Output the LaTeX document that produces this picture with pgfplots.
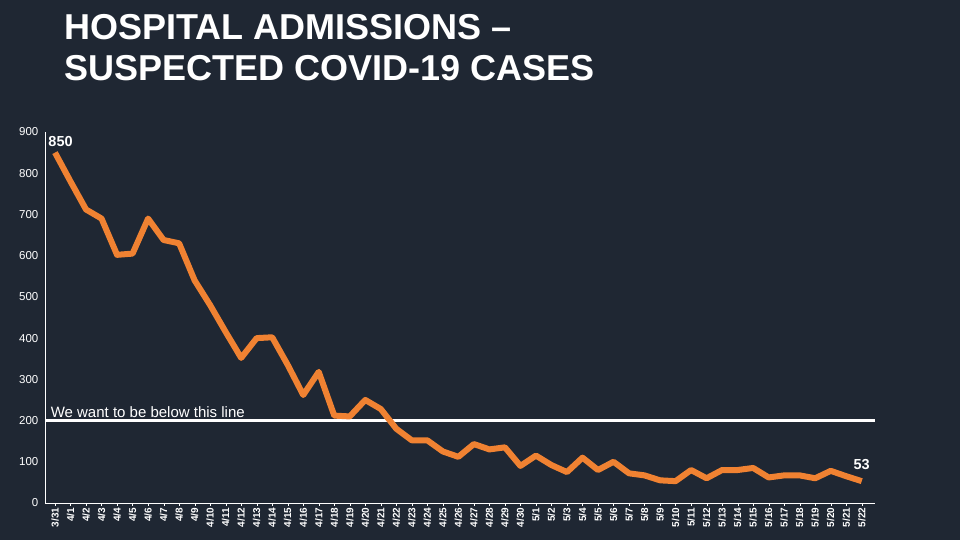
\documentclass[border=0pt]{standalone}
\usepackage{pgfplots}
\pgfplotsset{compat=1.18}
\usepackage{fontspec}
\setmainfont{Liberation Sans}
\definecolor{bg}{HTML}{1F2733}
\definecolor{org}{HTML}{F08232}
\begin{document}
\begin{tikzpicture}[x=1pt,y=1pt]
\fill[bg] (0,0) rectangle (960,540);
\node[anchor=north west,white,font=\bfseries\fontsize{36}{41}\selectfont,align=left,inner sep=0pt] at (64,526) {HOSPITAL ADMISSIONS --\\SUSPECTED COVID-19 CASES};
\begin{axis}[at={(55pt,37pt)},anchor=origin,scale only axis,width=830pt,height=371pt,
  xmin=-0.65,xmax=52.85,ymin=0,ymax=900,
  axis x line=bottom, axis y line=left, axis line style={white,-},
  ytick={0,100,...,900},
  xtick={0,...,52},
  xticklabels={3/31,4/1,4/2,4/3,4/4,4/5,4/6,4/7,4/8,4/9,4/10,4/11,4/12,4/13,4/14,4/15,4/16,4/17,4/18,4/19,4/20,4/21,4/22,4/23,4/24,4/25,4/26,4/27,4/28,4/29,4/30,5/1,5/2,5/3,5/4,5/5,5/6,5/7,5/8,5/9,5/10,5/11,5/12,5/13,5/14,5/15,5/16,5/17,5/18,5/19,5/20,5/21,5/22},
  x tick label style={rotate=90,anchor=east,font=\bfseries\fontsize{10}{11}\selectfont,white,inner sep=1.5pt},
  y tick label style={font=\fontsize{11.5}{12}\selectfont,white},
  /pgf/number format/assume math mode=true,
  ytick style={draw=none}, xtick style={white},
  tick align=outside, major tick length=3pt,
  clip=false]
\addplot[white,line width=2.5pt] coordinates {(-0.65,200) (52.85,200)};
\addplot[org,line width=6pt,line join=round] coordinates {
(0,850)(1,780)(2,712)(3,690)(4,602)(5,605)(6,690)(7,638)(8,630)(9,540)
(10,480)(11,415)(12,352)(13,400)(14,402)(15,335)(16,262)(17,318)(18,212)(19,210)
(20,250)(21,228)(22,180)(23,152)(24,152)(25,125)(26,112)(27,143)(28,130)(29,135)
(30,90)(31,115)(32,92)(33,75)(34,110)(35,80)(36,100)(37,72)(38,67)(39,55)
(40,53)(41,80)(42,60)(43,80)(44,80)(45,85)(46,62)(47,67)(48,67)(49,60)
(50,78)(51,65)(52,53)};
\node[white,font=\bfseries\fontsize{14.5}{15}\selectfont,anchor=south west,inner sep=1pt] at (axis cs:-0.5,862) {850};
\node[white,font=\bfseries\fontsize{14.5}{15}\selectfont,anchor=south,inner sep=1pt] at (axis cs:52,78) {53};
\node[white,font=\fontsize{15}{16}\selectfont,anchor=south west,inner sep=1pt] at (axis cs:-0.35,203) {We want to be below this line};
\end{axis}
\end{tikzpicture}
\end{document}
